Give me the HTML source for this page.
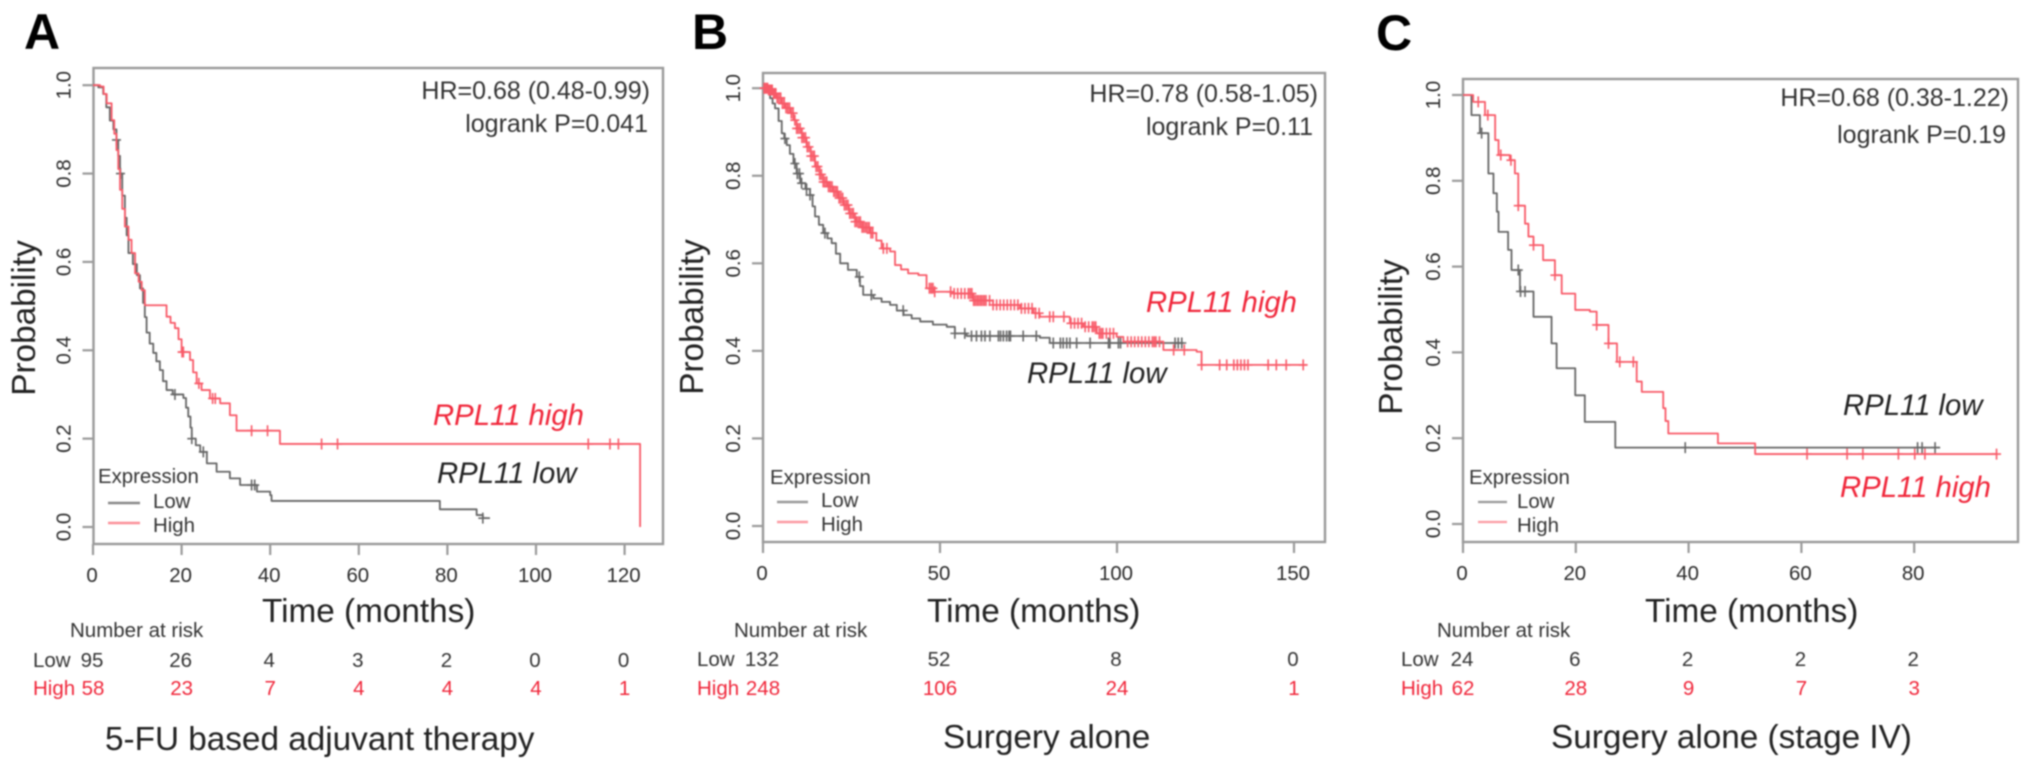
<!DOCTYPE html>
<html lang="en">
<head>
<meta charset="utf-8">
<title>RPL11 survival curves</title>
<style>
html,body{margin:0;padding:0;background:#fff;width:2031px;height:770px;overflow:hidden}
svg{display:block;filter:blur(0.7px)}
text{font-family:"Liberation Sans",Arial,sans-serif;fill:#2a2a2a}
.panel-letter{font-size:50px;font-weight:700;fill:#000}
.axis-title{font-size:33.3px;fill:#222}
.subtitle{font-size:33.3px;fill:#222}
.stat{font-size:25px;fill:#333}
.series-label{font-size:29.3px;font-style:italic}
.legend-text{font-size:20.4px;fill:#333}
.risk{font-size:20.5px;fill:#333}
.red{fill:#f0263a}
.black{fill:#222}
</style>
</head>
<body>
<svg id="figure" width="2031" height="770" viewBox="0 0 2031 770" xmlns="http://www.w3.org/2000/svg">
  <rect x="0" y="0" width="2031" height="770" fill="#fff"/>

  <g id="panel-a">
    <text class="panel-letter" x="24" y="49">A</text>
    <text class="axis-title" transform="rotate(-90 35 318)" x="35" y="318" text-anchor="middle">Probability</text>
    <text class="axis-title" x="262" y="622">Time (months)</text>
    <text class="stat" x="650" y="99" text-anchor="end">HR=0.68 (0.48-0.99)</text>
    <text class="stat" x="648" y="132" text-anchor="end">logrank P=0.041</text>
    <text class="series-label red" x="433" y="425">RPL11 high</text>
    <text class="series-label black" x="437" y="483">RPL11 low</text>
    <text class="legend-text" x="98" y="483">Expression</text>
    <line x1="108" x2="140" y1="503" y2="503" stroke="#888" stroke-width="2.4"/>
    <line x1="108" x2="140" y1="523" y2="523" stroke="#fb8f98" stroke-width="2.4"/>
    <text class="legend-text" x="153" y="508">Low</text>
    <text class="legend-text" x="153" y="532">High</text>
    <text class="risk" x="70" y="637">Number at risk</text>
    <text class="risk" x="33" y="667">Low</text>
    <text class="risk red" x="33" y="695">High</text>
    <text class="subtitle" x="105" y="750">5-FU based adjuvant therapy</text>
  </g>

  <g id="panel-b">
    <text class="panel-letter" x="692" y="49">B</text>
    <text class="axis-title" transform="rotate(-90 703 317)" x="703" y="317" text-anchor="middle">Probability</text>
    <text class="axis-title" x="927" y="622">Time (months)</text>
    <text class="stat" x="1318" y="102" text-anchor="end">HR=0.78 (0.58-1.05)</text>
    <text class="stat" x="1313" y="135" text-anchor="end">logrank P=0.11</text>
    <text class="series-label red" x="1146" y="312">RPL11 high</text>
    <text class="series-label black" x="1027" y="383">RPL11 low</text>
    <text class="legend-text" x="770" y="484">Expression</text>
    <line x1="777" x2="808" y1="502" y2="502" stroke="#999" stroke-width="2.4"/>
    <line x1="777" x2="808" y1="522" y2="522" stroke="#fb9aa2" stroke-width="2.4"/>
    <text class="legend-text" x="821" y="507">Low</text>
    <text class="legend-text" x="821" y="531">High</text>
    <text class="risk" x="734" y="637">Number at risk</text>
    <text class="risk" x="697" y="666">Low</text>
    <text class="risk red" x="697" y="695">High</text>
    <text class="subtitle" x="943" y="748">Surgery alone</text>
  </g>

  <g id="panel-c">
    <text class="panel-letter" x="1376" y="50">C</text>
    <text class="axis-title" transform="rotate(-90 1402 337)" x="1402" y="337" text-anchor="middle">Probability</text>
    <text class="axis-title" x="1645" y="622">Time (months)</text>
    <text class="stat" x="2009" y="106" text-anchor="end">HR=0.68 (0.38-1.22)</text>
    <text class="stat" x="2006" y="143" text-anchor="end">logrank P=0.19</text>
    <text class="series-label black" x="1843" y="415">RPL11 low</text>
    <text class="series-label red" x="1840" y="497">RPL11 high</text>
    <text class="legend-text" x="1469" y="484">Expression</text>
    <line x1="1478" x2="1507" y1="502" y2="502" stroke="#999" stroke-width="2.2"/>
    <line x1="1478" x2="1507" y1="522" y2="522" stroke="#fb9aa2" stroke-width="2.2"/>
    <text class="legend-text" x="1517" y="508">Low</text>
    <text class="legend-text" x="1517" y="532">High</text>
    <text class="risk" x="1437" y="637">Number at risk</text>
    <text class="risk" x="1401" y="666">Low</text>
    <text class="risk red" x="1401" y="695">High</text>
    <text class="subtitle" x="1551" y="748">Surgery alone (stage IV)</text>
  </g>
</svg>

<script>
// Shared y axis
var yTickValues = [0, 0.2, 0.4, 0.6, 0.8, 1];
var yTickLabels = ['0.0', '0.2', '0.4', '0.6', '0.8', '1.0'];

// Panel A data
var xTicksA = [0, 20, 40, 60, 80, 100, 120];
var riskLowA = [95, 26, 4, 3, 2, 0, 0];
var riskHighA = [58, 23, 7, 4, 4, 4, 1];
var lowTimesA = [0, 1.2, 2.3, 3, 3.8, 4.6, 5.3, 5.7, 6.1, 6.6, 7.2, 7.6, 8, 9, 9.9, 10.6, 11.3, 11.7, 12.1, 12.8, 13.6, 14.3, 15.1, 15.8, 16.6, 18, 20.4, 21, 21.5, 22, 22.3, 23.2, 24.2, 25.7, 27.9, 30.9, 33.2, 37, 40, 40.3, 78.3, 86.6, 88, 89.6];
var lowSurvA = [1, 0.995, 0.98, 0.95, 0.92, 0.9, 0.876, 0.84, 0.8, 0.75, 0.7, 0.66, 0.62, 0.595, 0.57, 0.54, 0.507, 0.475, 0.44, 0.415, 0.394, 0.375, 0.355, 0.33, 0.31, 0.3, 0.292, 0.27, 0.25, 0.225, 0.2, 0.185, 0.17, 0.144, 0.125, 0.11, 0.095, 0.08, 0.072, 0.059, 0.04, 0.027, 0.02, 0.02];
var lowCensorA = [5.3, 6.2, 18.5, 22.3, 24.9, 35.8, 36.5, 88];
var highTimesA = [0, 1.6, 2.4, 3.1, 4.2, 4.8, 5.3, 5.7, 6.1, 6.6, 7.2, 8, 8.7, 9.5, 10.3, 11, 11.7, 16.6, 17.5, 18.5, 19.3, 20, 21.9, 22.6, 23.4, 24.5, 26.4, 28.7, 30.9, 32.4, 42.2, 123.5];
var highSurvA = [1, 0.997, 0.98, 0.959, 0.921, 0.89, 0.853, 0.81, 0.763, 0.72, 0.68, 0.65, 0.62, 0.574, 0.555, 0.536, 0.502, 0.476, 0.462, 0.45, 0.425, 0.396, 0.378, 0.35, 0.325, 0.31, 0.291, 0.28, 0.253, 0.218, 0.188, 0];
var highCensorA = [20.1, 20.4, 23.9, 27, 27.6, 35.8, 39.4, 51.6, 55.2, 111.8, 116.7, 118.6];

// Panel B data
var xTicksB = [0, 50, 100, 150];
var riskLowB = [132, 52, 8, 0];
var riskHighB = [248, 106, 24, 1];
var lowTimesB = [0, 1, 2, 2.7, 3.4, 4.4, 5.3, 6, 6.7, 7.6, 8.6, 9.5, 10.5, 12, 13.3, 14, 14.7, 15.8, 17, 18.2, 19.4, 20.6, 21.8, 24, 26.5, 27.4, 28.3, 31.2, 33.5, 35.9, 37.8, 39.7, 42, 44.4, 48, 51.9, 54.2, 57.5, 78.2, 81, 118.6];
var lowSurvB = [1, 0.99, 0.977, 0.965, 0.954, 0.925, 0.897, 0.885, 0.87, 0.85, 0.828, 0.805, 0.783, 0.77, 0.756, 0.73, 0.707, 0.688, 0.669, 0.657, 0.646, 0.622, 0.6, 0.585, 0.569, 0.548, 0.528, 0.52, 0.512, 0.505, 0.492, 0.482, 0.474, 0.467, 0.46, 0.455, 0.44, 0.434, 0.43, 0.418, 0.416];
var lowCensorB = [6.2, 9, 9.7, 10.3, 10.9, 12.3, 13.3, 17.5, 27.2, 30.6, 39.6, 54.2, 57, 58.9, 60.3, 61.7, 62.7, 64.1, 66.5, 67.1, 67.9, 68.8, 69.5, 69.9, 73.5, 77.2, 82, 84, 84.8, 85.8, 86.7, 88.6, 92.4, 97.6, 98, 100.4, 101, 116.4, 117.3, 118.3];
var highTimesB = [0, 1.5, 2.9, 4, 5.3, 6.4, 7.6, 8.6, 9.5, 11, 12.3, 13.5, 14.7, 16, 17, 18.5, 19.9, 21.3, 22.7, 24.3, 26, 28, 30.2, 32, 33.5, 35.9, 37.3, 39, 41, 43.9, 46.2, 48.1, 53.8, 59.4, 65, 72.6, 76.4, 78.2, 86.7, 90.5, 94.3, 99.9, 101.8, 113.1, 122.5, 123.9, 153.6];
var highSurvB = [1, 0.996, 0.988, 0.978, 0.965, 0.955, 0.943, 0.927, 0.908, 0.887, 0.866, 0.845, 0.821, 0.803, 0.786, 0.775, 0.764, 0.749, 0.733, 0.714, 0.695, 0.682, 0.669, 0.652, 0.634, 0.627, 0.596, 0.586, 0.577, 0.573, 0.543, 0.535, 0.531, 0.515, 0.505, 0.497, 0.486, 0.478, 0.463, 0.455, 0.44, 0.432, 0.421, 0.402, 0.398, 0.368, 0.368];
var highCensorB = [0.3, 0.6, 1, 1.3, 1.6, 2, 2.3, 2.6, 3, 3.3, 3.6, 4, 4.5, 5, 5.5, 6, 6.5, 7, 7.5, 8, 8.5, 9, 9.5, 10, 10.5, 11, 11.5, 12, 12.5, 13, 13.5, 14, 14.5, 15, 15.5, 16, 16.5, 17, 17.5, 18, 18.5, 19, 19.5, 20, 20.5, 21, 21.5, 22, 22.5, 23, 23.5, 24, 24.5, 25, 25.5, 26, 26.5, 27, 27.5, 28, 28.5, 29, 29.5, 30, 30.5, 31, 34, 35, 47, 47.5, 48, 48.5, 53, 54, 55, 56, 57, 58, 58.5, 59, 59.5, 60, 60.5, 61, 61.5, 62, 62.5, 63, 64, 65, 66, 67, 68, 69, 70, 71, 72, 73, 74, 75, 76, 77, 78, 81, 82, 85, 87, 88, 89, 90, 91, 92, 93, 93.5, 94, 95, 95.5, 96, 97, 98, 99, 103, 104, 105, 106, 107, 108, 109, 110, 110.5, 111, 112, 116, 119, 123.9, 129, 131, 133, 134, 135, 136, 137, 142.7, 145, 147.8, 152.6];

// Panel C data
var xTicksC = [0, 20, 40, 60, 80];
var riskLowC = [24, 6, 2, 2, 2];
var riskHighC = [62, 28, 9, 7, 3];
var lowTimesC = [0, 1.5, 3, 4.5, 5.4, 6, 6.3, 8, 8.6, 10.1, 12.5, 15.7, 16.6, 19.9, 21.6, 27, 84.6];
var lowSurvC = [1, 0.953, 0.911, 0.817, 0.771, 0.728, 0.681, 0.639, 0.592, 0.542, 0.483, 0.421, 0.363, 0.3, 0.238, 0.178, 0.178];
var lowCensorC = [3.3, 9.8, 10.2, 11, 39.4, 80.6, 81.4, 83.7];
var highTimesC = [0, 1.8, 3.9, 5.7, 6.3, 8.3, 9.2, 9.8, 11, 11.6, 12.5, 14.2, 16.3, 17.5, 19.9, 22.5, 23.7, 25.8, 27.3, 30.8, 31.7, 35.5, 35.9, 36.4, 45.2, 51.8, 94.7];
var highSurvC = [1, 0.984, 0.953, 0.895, 0.86, 0.848, 0.817, 0.742, 0.7, 0.67, 0.65, 0.615, 0.58, 0.537, 0.499, 0.495, 0.464, 0.421, 0.378, 0.332, 0.308, 0.27, 0.24, 0.211, 0.188, 0.163, 0.163];
var highCensorC = [2.7, 4.4, 6.7, 8.5, 9.8, 12.5, 16.3, 23.7, 25.8, 27.8, 30.2, 61, 68.1, 70.9, 77.2, 80.1, 81.9, 94.6];

var SVG_NS = 'http://www.w3.org/2000/svg';
var LOW_COLOR = '#666666';
var HIGH_COLOR = '#f85a68';
var AXIS_COLOR = '#9a9a9a';

function make(tag, parent, attrs) {
  var node = document.createElementNS(SVG_NS, tag);
  for (var key in attrs) { node.setAttribute(key, attrs[key]); }
  parent.appendChild(node);
  return node;
}

function survivalAt(times, surv, t) {
  var value = surv[0];
  for (var i = 0; i < times.length; i++) {
    if (times[i] <= t) { value = surv[i]; }
  }
  return value;
}

function drawSeries(group, key, name, times, surv, censor, color, xAt, yAt) {
  var d = 'M' + xAt(times[0]) + ' ' + yAt(surv[0]);
  for (var i = 1; i < times.length; i++) {
    d += ' H' + xAt(times[i]).toFixed(2) + ' V' + yAt(surv[i]).toFixed(2);
  }
  var curve = make('path', group, {d: d, fill: 'none', stroke: color, 'stroke-width': 1.8, 'stroke-linejoin': 'round'});
  
  
  for (var j = 0; j < censor.length; j++) {
    var cx = xAt(censor[j]);
    var cy = yAt(survivalAt(times, surv, censor[j]));
    var mark = make('path', group, {
      d: 'M' + (cx - 4.5).toFixed(2) + ' ' + cy.toFixed(2) + ' h9 M' + cx.toFixed(2) + ' ' + (cy - 5.5).toFixed(2) + ' v11',
      fill: 'none', stroke: color, 'stroke-width': 1.6
    });
    
    
  }
}

function drawPanel(key, box, xTicks, riskLow, riskHigh, low, high) {
  var group = document.getElementById('panel-' + key);
  var xAt = function (t) { return box.x0 + t * box.pxPerMonth; };
  var yAt = function (p) { return box.y0 - p * box.pxPerUnit; };

  var frame = make('rect', group, {
    x: box.left, y: box.top, width: box.right - box.left, height: box.bottom - box.top,
    fill: 'none', stroke: AXIS_COLOR, 'stroke-width': 2.4
  });
  
  

  for (var i = 0; i < xTicks.length; i++) {
    var tx = xAt(xTicks[i]);
    var xTick = make('line', group, {x1: tx, x2: tx, y1: box.bottom, y2: box.bottom + 11, stroke: AXIS_COLOR, 'stroke-width': 2.2});
    
    
    var xLabel = make('text', group, {x: tx - 1, y: box.bottom + 38, 'text-anchor': 'middle', 'font-size': 20.4, fill: '#333'});
    xLabel.textContent = xTicks[i];
    
    
    var lowRisk = make('text', group, {x: tx - 1, y: box.riskLowY, 'text-anchor': 'middle', 'class': 'risk'});
    lowRisk.textContent = riskLow[i];
    
    
    var highRisk = make('text', group, {x: tx, y: 695, 'text-anchor': 'middle', 'class': 'risk red'});
    highRisk.textContent = riskHigh[i];
    
    
  }

  for (var k = 0; k < yTickValues.length; k++) {
    var ty = yAt(yTickValues[k]);
    var yTick = make('line', group, {x1: box.left - 11, x2: box.left, y1: ty, y2: ty, stroke: AXIS_COLOR, 'stroke-width': 2.2});
    
    
    var yLabel = make('text', group, {x: box.left - 23, y: ty, 'text-anchor': 'middle', 'font-size': 20.4, fill: '#333',
      transform: 'rotate(-90 ' + (box.left - 23) + ' ' + ty + ')'});
    yLabel.textContent = yTickLabels[k];
    
    
  }

  drawSeries(group, key, 'low', low[0], low[1], low[2], LOW_COLOR, xAt, yAt);
  drawSeries(group, key, 'high', high[0], high[1], high[2], HIGH_COLOR, xAt, yAt);
}

drawPanel('a', {left: 93.5, right: 663, top: 68, bottom: 544, x0: 93, pxPerMonth: 4.43, y0: 527, pxPerUnit: 441.8, riskLowY: 667},
  xTicksA, riskLowA, riskHighA, [lowTimesA, lowSurvA, lowCensorA], [highTimesA, highSurvA, highCensorA]);
drawPanel('b', {left: 763, right: 1325, top: 73, bottom: 542, x0: 763, pxPerMonth: 3.54, y0: 526, pxPerUnit: 437.8, riskLowY: 666},
  xTicksB, riskLowB, riskHighB, [lowTimesB, lowSurvB, lowCensorB], [highTimesB, highSurvB, highCensorB]);
drawPanel('c', {left: 1463, right: 2018, top: 79, bottom: 542, x0: 1463, pxPerMonth: 5.64, y0: 524, pxPerUnit: 429, riskLowY: 666},
  xTicksC, riskLowC, riskHighC, [lowTimesC, lowSurvC, lowCensorC], [highTimesC, highSurvC, highCensorC]);
</script>
</body>
</html>
